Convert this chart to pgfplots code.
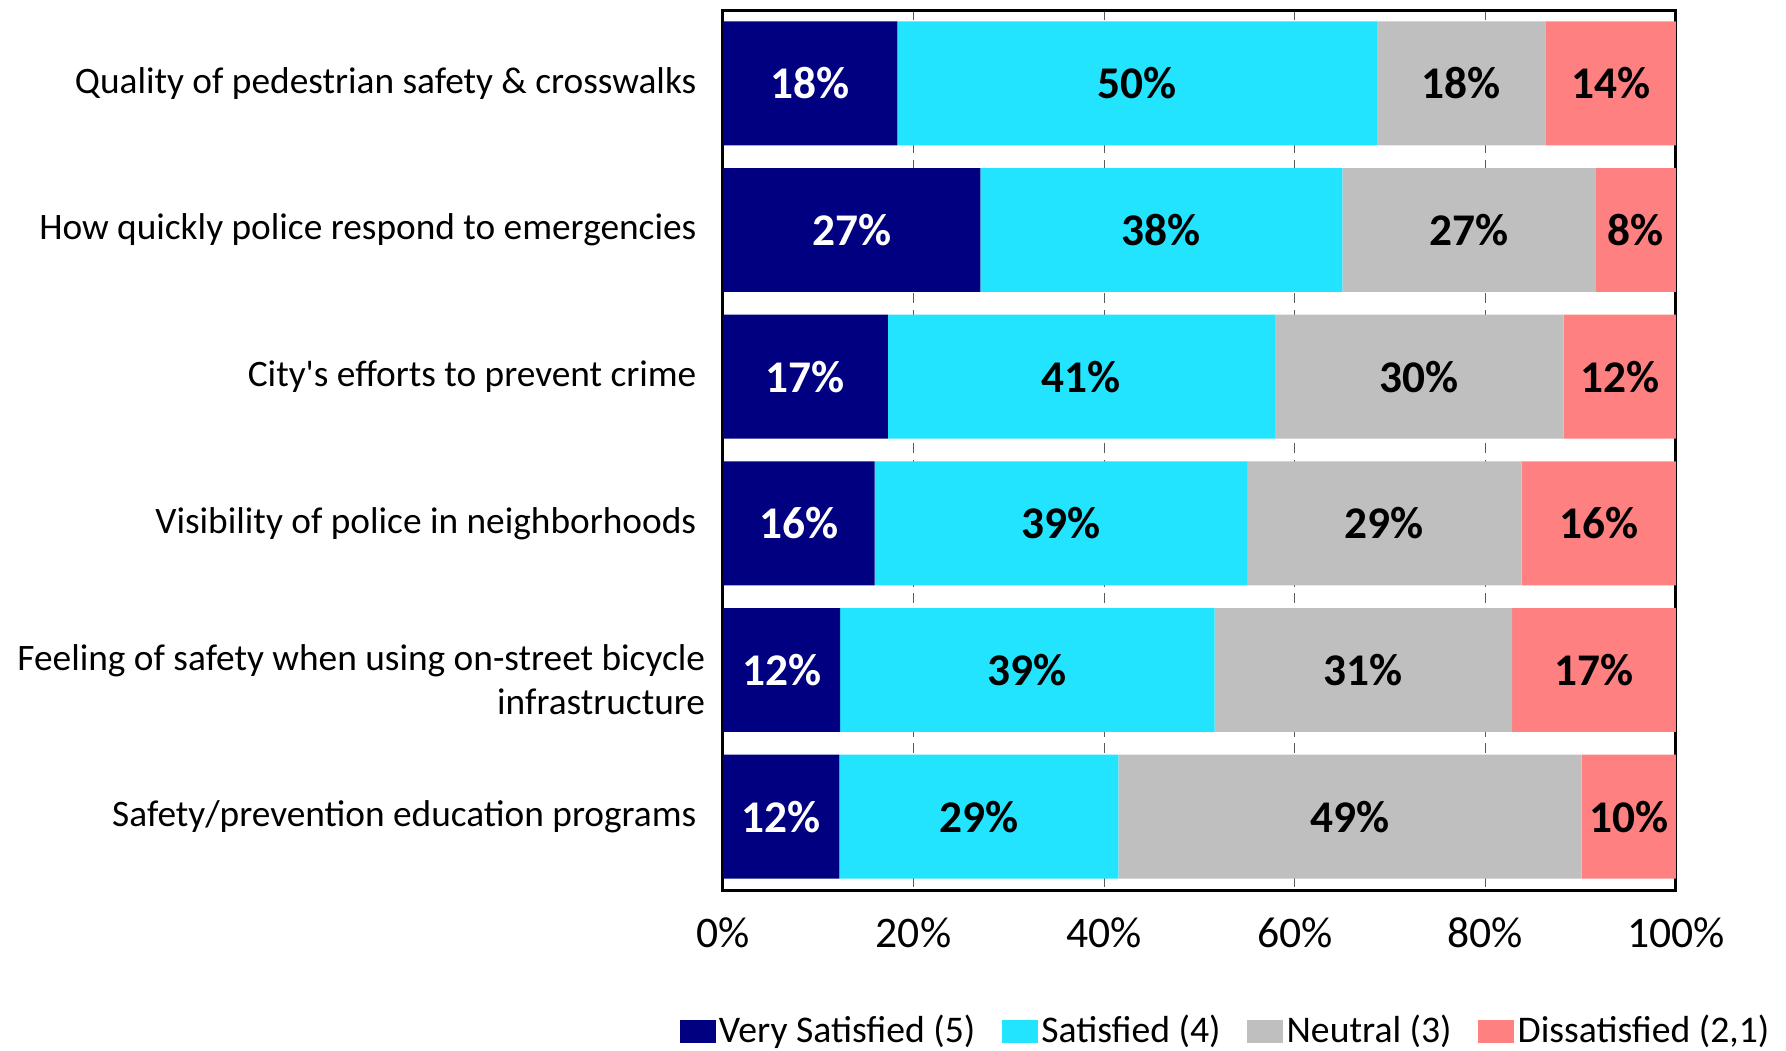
\documentclass[border=0pt]{standalone}
\usepackage{pgfplots}
\pgfplotsset{compat=1.18}
\usepackage{fontspec}
\setmainfont{Carlito}

\definecolor{vsat}{RGB}{0,0,128}
\definecolor{sat}{RGB}{34,228,255}
\definecolor{neut}{RGB}{191,191,191}
\definecolor{dissat}{RGB}{255,128,128}

\begin{document}
\begin{tikzpicture}
\useasboundingbox (-216.9pt,-48.3pt) rectangle (318.9pt,267pt);
\begin{axis}[
    xbar stacked,
    scale only axis,
    width=285.9pt,
    height=264pt,
    bar width=0.845,
    xmin=0, xmax=100,
    ymin=0.5, ymax=6.5,
    y dir=reverse,
    ytick={1,2,3,4,5,6},
    yticklabels={
        Quality of pedestrian safety \& crosswalks,
        How quickly police respond to emergencies,
        City\textquotesingle s efforts to prevent crime,
        Visibility of police in neighborhoods,
        {\rule{0pt}{13.6pt}Feeling of safety when using on-street bicycle\hspace*{-2.6pt}\\infrastructure\hspace*{-2.6pt}},
        Safety/prevention education programs},
    yticklabel style={font=\fontsize{11.2}{13}\selectfont, align=right, inner sep=0pt, xshift=-7.8pt},
    xtick={0,20,40,60,80,100},
    xticklabels={0\%,20\%,40\%,60\%,80\%,100\%},
    xticklabel style={font=\fontsize{13.1}{15}\selectfont, inner sep=0pt, yshift=-8pt},
    major tick length=0pt,
    xmajorgrids,
    grid style={densely dashed, black!65, line width=0.35pt},
    axis line style={line width=0.9pt},
    point meta=explicit symbolic,
    nodes near coords,
    every node near coord/.append style={font=\bfseries\fontsize{13.6}{15}\selectfont, black},
    legend style={
        at={(0.528,-0.161)}, anchor=center,
        draw=none, fill=none,
        legend columns=4,
        font=\fontsize{11.3}{13}\selectfont,
        nodes={inner sep=1pt},
        /tikz/every even column/.append style={column sep=7pt},
    },
    legend image code/.code={\fill[#1] (0pt,-3.45pt) rectangle (10.8pt,3.45pt);},
]
\addplot[fill=vsat, draw=none, every node near coord/.append style={white}] coordinates {
    (18.3,1) [18\%] (27.0,2) [27\%] (17.3,3) [17\%]
    (15.9,4) [16\%] (12.3,5) [12\%] (12.2,6) [12\%]
};
\addplot[fill=sat, draw=none] coordinates {
    (50.3,1) [50\%] (38.0,2) [38\%] (40.6,3) [41\%]
    (39.1,4) [39\%] (39.3,5) [39\%] (29.3,6) [29\%]
};
\addplot[fill=neut, draw=none] coordinates {
    (17.7,1) [18\%] (26.6,2) [27\%] (30.3,3) [30\%]
    (28.8,4) [29\%] (31.2,5) [31\%] (48.6,6) [49\%]
};
\addplot[fill=dissat, draw=none] coordinates {
    (13.7,1) [14\%] (8.4,2) [8\%] (11.8,3) [12\%]
    (16.2,4) [16\%] (17.2,5) [17\%] (9.9,6) [10\%]
};
\legend{Very Satisfied (5), Satisfied (4), Neutral (3), {Dissatisfied (2,1)}}
\end{axis}
\end{tikzpicture}
\end{document}
